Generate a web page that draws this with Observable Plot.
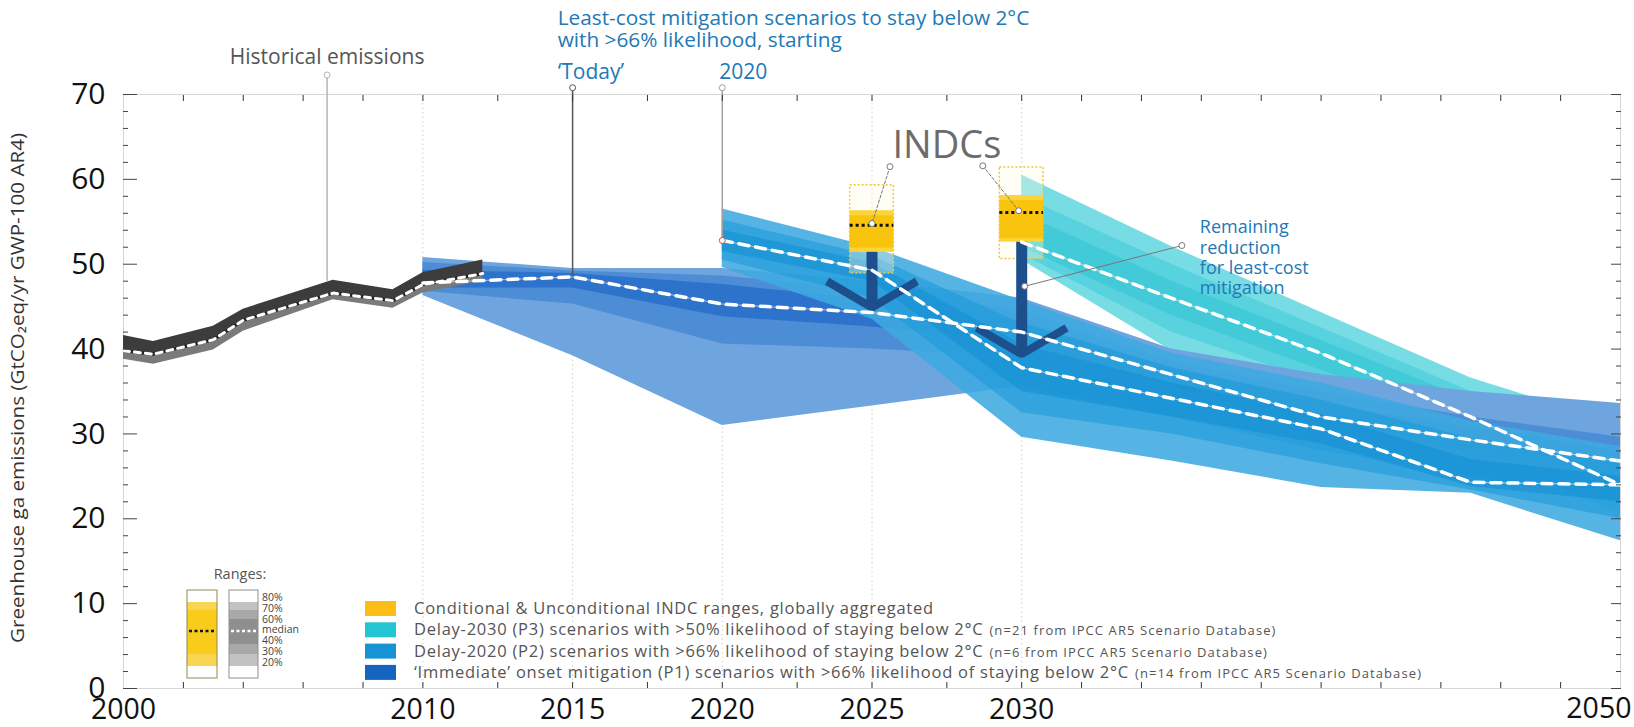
<!DOCTYPE html>
<html><head><meta charset="utf-8">
<script src="https://cdn.jsdelivr.net/npm/d3@7"></script>
<script src="https://cdn.jsdelivr.net/npm/@observablehq/plot@0.6"></script>
<style>
body{margin:0;background:#fff;font-family:"Open Sans",sans-serif;}
#chart{position:relative;width:1634px;height:727px;overflow:hidden;}
</style></head><body><div id="chart"></div>
<script>
// ---------- Historical emissions ----------
const histYears  = [2000, 2001, 2003, 2004, 2007, 2009, 2010, 2012];
const histHigh   = [41.6, 40.9, 42.7, 44.7, 48.1, 47.0, 49.0, 50.5];
const histMedian = [39.8, 39.4, 41.1, 43.4, 46.6, 45.7, 47.6, 48.9];
const histLow    = [38.8, 38.2, 39.9, 42.1, 45.8, 44.8, 46.6, 48.0];

// ---------- P1: 'Immediate' onset mitigation ----------
const p1Years = [2010, 2015, 2020, 2025, 2030, 2035, 2040, 2045, 2050];
const p1P80 = [50.8, 49.5, 49.5, 48.0, 46.0, 40.0, 37.0, 35.0, 33.6];
const p1P70 = [50.2, 49.2, 48.6, 47.0, 44.5, 38.5, 35.0, 32.0, 29.6];
const p1P60 = [49.3, 48.9, 47.6, 45.8, 43.3, 37.8, 33.5, 30.8, 28.0];
const p1Med = [47.8, 48.5, 45.3, 44.3, 42.0, 37.0, 32.0, 29.3, 26.8];
const p1P40 = [47.2, 47.2, 43.8, 42.6, 40.8, 35.5, 30.8, 28.0, 25.5];
const p1P30 = [46.8, 45.3, 40.6, 40.0, 39.0, 34.0, 29.5, 26.5, 24.0];
const p1P20 = [46.3, 39.2, 31.0, 33.3, 35.6, 32.0, 28.0, 25.0, 22.5];

// ---------- P2: Delay-2020 ----------
const p2Years = [2020, 2025, 2030, 2035, 2040, 2045, 2050];
const p2P80 = [56.5, 52.0, 45.7, 39.5, 36.0, 31.5, 28.5];
const p2P70 = [55.2, 51.0, 43.0, 37.8, 34.0, 29.5, 26.5];
const p2P60 = [54.0, 50.2, 40.5, 36.0, 32.3, 27.0, 25.0];
const p2Med = [52.8, 49.3, 37.8, 34.2, 30.6, 24.3, 24.0];
const p2P40 = [51.5, 48.0, 35.0, 32.0, 28.8, 23.8, 22.0];
const p2P30 = [50.5, 46.0, 32.5, 30.0, 26.5, 23.4, 20.0];
const p2P20 = [49.6, 43.5, 29.6, 26.8, 23.7, 23.0, 17.4];

// ---------- P3: Delay-2030 ----------
const p3Years = [2030, 2035, 2040, 2045, 2050];
const p3P80 = [60.5, 52.1, 44.3, 36.6, 31.0];
const p3P70 = [58.0, 50.0, 42.5, 35.0, 29.5];
const p3P60 = [56.0, 48.0, 41.0, 34.0, 28.0];
const p3Med = [52.6, 46.0, 39.5, 32.0, 24.0];
const p3P40 = [52.0, 44.0, 37.5, 31.0, 23.0];
const p3P30 = [51.2, 42.0, 36.0, 29.5, 22.0];
const p3P20 = [50.5, 39.8, 34.5, 28.0, 20.5];

// ---------- INDC ranges ----------
const indcYears  = [2025, 2030];
const indcMax    = [59.3, 61.4];
const indcP80    = [56.3, 58.1];
const indcP70    = [55.7, 57.5];
const indcMedian = [54.6, 56.1];
const indcP30    = [51.9, 53.0];
const indcP20    = [51.4, 52.6];
const indcMin    = [48.9, 50.6];

// ---------- Remaining reduction arrows ----------
const arrowYears = [2025, 2030];
const arrowFrom  = [51.4, 52.6];
const arrowTo    = [44.9, 39.4];

// ---------- Axis ticks ----------
const xTickLabels = [2000, 2010, 2015, 2020, 2025, 2030];
const xEndLabel = [2050];
const xMinorTicks = [2002, 2004, 2006, 2008, 2010, 2012.5, 2015, 2017.5, 2020, 2022.5, 2025, 2027.5, 2030,
                     2032, 2034, 2036, 2038, 2040, 2042, 2044, 2046, 2048];
const yTickLabels = [0, 10, 20, 30, 40, 50, 60, 70];
const yMinorTicks = [2,4,6,8,12,14,16,18,22,24,26,28,32,34,36,38,42,44,46,48,52,54,56,58,62,64,66,68];
const gridYears = [2010, 2015, 2020, 2025, 2030];

// ---------- Annotation texts ----------
const titleLines = ["Least-cost mitigation scenarios to stay below 2°C", "with >66% likelihood, starting"];
const remainingLines = ["Remaining", "reduction", "for least-cost", "mitigation"];
const legendItems = [
  {label: "Conditional & Unconditional INDC ranges, globally aggregated", note: "", color: "#fcbd14"},
  {label: "Delay-2030 (P3) scenarios with >50% likelihood of staying below 2°C", note: "(n=21 from IPCC AR5 Scenario Database)", color: "#22c5d3"},
  {label: "Delay-2020 (P2) scenarios with >66% likelihood of staying below 2°C", note: "(n=6 from IPCC AR5 Scenario Database)", color: "#1693d4"},
  {label: "‘Immediate’ onset mitigation (P1) scenarios with >66% likelihood of staying below 2°C", note: "(n=14 from IPCC AR5 Scenario Database)", color: "#1565c0"}
];
const rangeLabels = ["80%", "70%", "60%", "median", "40%", "30%", "20%"];

// ---------- build tables ----------
const hist = histYears.map((year, i) => ({year, hi: histHigh[i], med: histMedian[i], lo: histLow[i]}));
function scen(years, p20, p30, p40, med, p60, p70, p80) {
  return years.map((year, i) => ({year, p20: p20[i], p30: p30[i], p40: p40[i], med: med[i], p60: p60[i], p70: p70[i], p80: p80[i]}));
}
const P1 = scen(p1Years, p1P20, p1P30, p1P40, p1Med, p1P60, p1P70, p1P80);
const P2 = scen(p2Years, p2P20, p2P30, p2P40, p2Med, p2P60, p2P70, p2P80);
const P3 = scen(p3Years, p3P20, p3P30, p3P40, p3Med, p3P60, p3P70, p3P80);
const indc = indcYears.map((year, i) => ({year, max: indcMax[i], p80: indcP80[i], p70: indcP70[i], med: indcMedian[i], p30: indcP30[i], p20: indcP20[i], min: indcMin[i]}));
const arrows = arrowYears.map((year, i) => ({year, from: arrowFrom[i], to: arrowTo[i]}));

const HALF = 0.73;   // half-width of INDC boxes, in years
const CHEV_DX = 1.5, CHEV_DY = 3.1;

function bandMarks(data, cols, opacity) {
  return [
    Plot.areaY(data, {x: "year", y1: "p20", y2: "p80", fill: cols[0], fillOpacity: opacity[0]}),
    Plot.areaY(data, {x: "year", y1: "p30", y2: "p70", fill: cols[1], fillOpacity: opacity[1]}),
    Plot.areaY(data, {x: "year", y1: "p40", y2: "p60", fill: cols[2], fillOpacity: opacity[2]})
  ];
}
function medianMarks(data, key = "med") {
  return [
    Plot.line(data, {x: "year", y: key, stroke: "#ffffff", strokeOpacity: 0.55, strokeWidth: 1}),
    Plot.line(data, {x: "year", y: key, stroke: "#ffffff", strokeWidth: 3.5, strokeDasharray: "10,7"})
  ];
}

const chevrons = arrows.flatMap(a => [
  {id: a.year, year: a.year - CHEV_DX, v: a.to + CHEV_DY},
  {id: a.year, year: a.year, v: a.to},
  {id: a.year, year: a.year + CHEV_DX, v: a.to + CHEV_DY}
]);

// leader lines (annotation anchors)
const leaders = [
  {year: 2006.8, y1: 72.3, y2: 48.0, stroke: "#b5b5b5"},
  {year: 2015, y1: 70.8, y2: 48.6, stroke: "#555555"},
  {year: 2020, y1: 70.8, y2: 52.8, stroke: "#a0a0a0"}
];
const slantLeaders = [
  {id: "a", pts: [[2025.6, 61.5], [2025.0, 54.8]], dash: "3,2"},
  {id: "b", pts: [[2028.7, 61.6], [2029.9, 56.3]], dash: "3,2"},
  {id: "c", pts: [[2035.35, 52.2], [2030.1, 47.4]], dash: null}
];
const slantPts = slantLeaders.flatMap(l => l.pts.map(p => ({id: l.id, year: p[0], v: p[1], dash: l.dash})));

const plot = Plot.plot({
  width: 1634, height: 727,
  marginLeft: 123, marginRight: 14, marginTop: 94, marginBottom: 39,
  style: {fontFamily: "'Open Sans', sans-serif", background: "transparent", overflow: "visible"},
  x: {domain: [2000, 2050], label: null},
  y: {domain: [0, 70], label: null},
  marks: [
    Plot.frame({stroke: "#d6d6d6"}),
    Plot.ruleX(gridYears, {x: d => d, stroke: "#d0d0d0", strokeDasharray: "1.5,3"}),
    // scenario bands
    ...bandMarks(P3, ["#5fd6df", "#3fcbd8", "#2cc2d3"], [0.85, 0.55, 0.5]),
    ...bandMarks(P1, ["#6ea5de", "#3f83d3", "#2068c6"], [1, 0.7, 0.7]),
    ...bandMarks(P2, ["#3eaae0", "#1f9bda", "#1590d4"], [0.88, 0.62, 0.62]),
    // historical band
    Plot.areaY(hist, {x: "year", y1: "lo", y2: "med", fill: "#7a7a7a"}),
    Plot.areaY(hist, {x: "year", y1: "med", y2: "hi", fill: "#3c3c3c"}),
    // INDC boxes
    Plot.rect(indc, {x1: d => d.year - HALF, x2: d => d.year + HALF, y1: "min", y2: "max", fill: "#fffbe6", fillOpacity: 0.35, stroke: "#f2c53a", strokeDasharray: "2,2", strokeWidth: 1.5}),
    Plot.rect(indc, {x1: d => d.year - HALF, x2: d => d.year + HALF, y1: "p20", y2: "p80", fill: "#fbd43a"}),
    Plot.rect(indc, {x1: d => d.year - HALF, x2: d => d.year + HALF, y1: "p30", y2: "p70", fill: "#f9c40d"}),
    Plot.ruleY(indc, {x1: d => d.year - HALF, x2: d => d.year + HALF, y: "med", stroke: "#111", strokeWidth: 3, strokeDasharray: "3,3"}),
    // arrows
    Plot.ruleX(arrows, {x: "year", y1: "from", y2: "to", stroke: "#1d4f8c", strokeWidth: 11}),
    Plot.line(chevrons, {x: "year", y: "v", z: "id", stroke: "#1d4f8c", strokeWidth: 8, strokeLinejoin: "miter", strokeLinecap: "butt"}),
    // medians
    Plot.line(hist, {x: "year", y: "med", stroke: "#222", strokeWidth: 3}),
    Plot.line(hist, {x: "year", y: "med", stroke: "#fff", strokeWidth: 3, strokeDasharray: "6,5"}),
    ...medianMarks(P3),
    ...medianMarks(P1),
    ...medianMarks(P2),
    // leaders
    Plot.ruleX(leaders, {x: "year", y1: "y1", y2: "y2", stroke: "stroke", strokeWidth: 1.5}),
    Plot.dot(leaders, {x: "year", y: "y1", r: 3, fill: "#fff", stroke: "stroke", strokeWidth: 1}),
    Plot.line(slantPts.filter(d => d.dash), {x: "year", y: "v", z: "id", stroke: "#777", strokeWidth: 1, strokeDasharray: "3,2"}),
    Plot.line(slantPts.filter(d => !d.dash), {x: "year", y: "v", z: "id", stroke: "#777", strokeWidth: 1}),
    Plot.dot(slantPts, {x: "year", y: "v", r: 3, fill: "#fff", stroke: "#777", strokeWidth: 1}),
    Plot.dot([{year: 2020, v: 52.8}], {x: "year", y: "v", r: 3, fill: "#fff", stroke: "#c0504d", strokeWidth: 1}),
    // texts
    Plot.text(["Historical emissions"], {x: 2006.8, y: 74.4, text: d => d, fontSize: 21, fill: "#555", textAnchor: "middle", letterSpacing: "2.6px"}),
    Plot.text(titleLines.slice(0, 1), {x: 2014.5, y: 78.95, text: d => d, fontSize: 20.8, fill: "#2279b5", textAnchor: "start", letterSpacing: "0.2px"}),
    Plot.text(titleLines.slice(1), {x: 2014.5, y: 76.35, text: d => d, fontSize: 20.8, fill: "#2279b5", textAnchor: "start", letterSpacing: "1.7px"}),
    Plot.text(["‘Today’", "2020"], {x: (d, i) => [2014.5, 2019.9][i], y: 72.6, text: d => d, fontSize: 21, fill: "#2279b5", textAnchor: "start"}),
    Plot.text(["INDCs"], {x: 2027.5, y: 63.9, text: d => d, fontSize: 38, fill: "#6b6b6b", textAnchor: "middle"}),
    Plot.text(remainingLines, {x: 2035.95, y: (d, i) => 54.3 - i * 2.38, text: d => d, fontSize: 18, fill: "#2279b5", textAnchor: "start", letterSpacing: "0.9px"}),
    // axes
    Plot.axisX({anchor: "bottom", ticks: xMinorTicks, tickSize: -6, tickFormat: () => "", stroke: "#333", label: null}),
    Plot.axisX({anchor: "top", ticks: xMinorTicks, tickSize: -6, tickFormat: () => "", stroke: "#333", label: null}),
    Plot.axisX({anchor: "bottom", ticks: xTickLabels, tickSize: 0, tickPadding: 10, fontSize: 28.5, fill: "#111", tickFormat: d => String(d), label: null}),
    Plot.text(xEndLabel, {x: d => d, frameAnchor: "bottom", dy: 29, dx: 11, text: d => String(d), fontSize: 28.5, fill: "#111", textAnchor: "end"}),
    Plot.axisY({anchor: "left", ticks: yMinorTicks, tickSize: -5, tickFormat: () => "", stroke: "#444", label: null}),
    Plot.axisY({anchor: "left", ticks: yTickLabels, tickSize: -14, tickPadding: 32, fontSize: 30, fill: "#111", stroke: "#444", label: null}),
    Plot.axisY({anchor: "right", ticks: yMinorTicks, tickSize: -5, tickFormat: () => "", stroke: "#444", label: null}),
    Plot.axisY({anchor: "right", ticks: yTickLabels, tickSize: -10, tickFormat: () => "", stroke: "#444", label: null})
  ]
});

document.getElementById("chart").appendChild(plot);

// ---------- y axis title, legends (drawn into the SVG) ----------
const svg = d3.select(plot);
svg.append("text")
  .attr("transform", "translate(24,388) rotate(-90)")
  .attr("text-anchor", "middle")
  .attr("font-size", 17.5)
  .attr("fill", "#333")
  .attr("textLength", 510)
  .attr("lengthAdjust", "spacingAndGlyphs")
  .text("Greenhouse ga emissions (GtCO₂eq/yr GWP-100 AR4)");

// colour legend
const lg = svg.append("g").attr("transform", "translate(365,601)").attr("text-anchor", "start");
legendItems.forEach((d, i) => {
  const g = lg.append("g").attr("transform", `translate(0,${i * 21.3})`);
  g.append("rect").attr("width", 31).attr("height", 15).attr("fill", d.color);
  const t = g.append("text").attr("x", 49).attr("y", 13).attr("font-size", 16.5).attr("letter-spacing", "0.75px").attr("fill", "#555").attr("text-anchor", "start");
  t.append("tspan").text(d.label);
  if (d.note) t.append("tspan").attr("font-size", 13).attr("letter-spacing", "1.1px").attr("dx", 6).text(d.note);
});

// ranges legend
const rg = svg.append("g").attr("transform", "translate(187,576)").attr("text-anchor", "start");
rg.append("text").attr("x", 53).attr("y", 3).attr("text-anchor", "middle").attr("font-size", 14.5).attr("fill", "#555").text("Ranges:");
const yellowFills = ["#fff", "#f8d552", "#f9cc1c", "#f9cc1c", "#f9cc1c", "#f9cc1c", "#f8d552", "#fff"];
const greyFills   = ["#fff", "#c2c2c2", "#a9a9a9", "#8f8f8f", "#8f8f8f", "#a9a9a9", "#c2c2c2", "#fff"];
const bandEdges = [14, 26, 34, 43, 55, 68, 78, 90, 102];
for (let i = 0; i < 8; i++) {
  rg.append("rect").attr("x", 0).attr("y", bandEdges[i]).attr("width", 30).attr("height", bandEdges[i+1] - bandEdges[i]).attr("fill", yellowFills[i]);
  rg.append("rect").attr("x", 42).attr("y", bandEdges[i]).attr("width", 29).attr("height", bandEdges[i+1] - bandEdges[i]).attr("fill", greyFills[i]);
}
rg.append("rect").attr("x", 0).attr("y", 14).attr("width", 30).attr("height", 88).attr("fill", "none").attr("stroke", "#8d8a55").attr("stroke-width", 1);
rg.append("rect").attr("x", 42).attr("y", 14).attr("width", 29).attr("height", 88).attr("fill", "none").attr("stroke", "#8f8f8f").attr("stroke-width", 1);
rg.append("line").attr("x1", 2).attr("x2", 28).attr("y1", 55).attr("y2", 55).attr("stroke", "#111").attr("stroke-width", 2.5).attr("stroke-dasharray", "3,2.5");
rg.append("line").attr("x1", 44).attr("x2", 69).attr("y1", 55).attr("y2", 55).attr("stroke", "#fff").attr("stroke-width", 2.5).attr("stroke-dasharray", "3,2.5");
rangeLabels.forEach((t, i) => {
  rg.append("text").attr("x", 75).attr("y", 25 + i * 10.8).attr("font-size", 10.5).attr("fill", "#444").attr("text-anchor", "start").text(t);
});
</script></body></html>
